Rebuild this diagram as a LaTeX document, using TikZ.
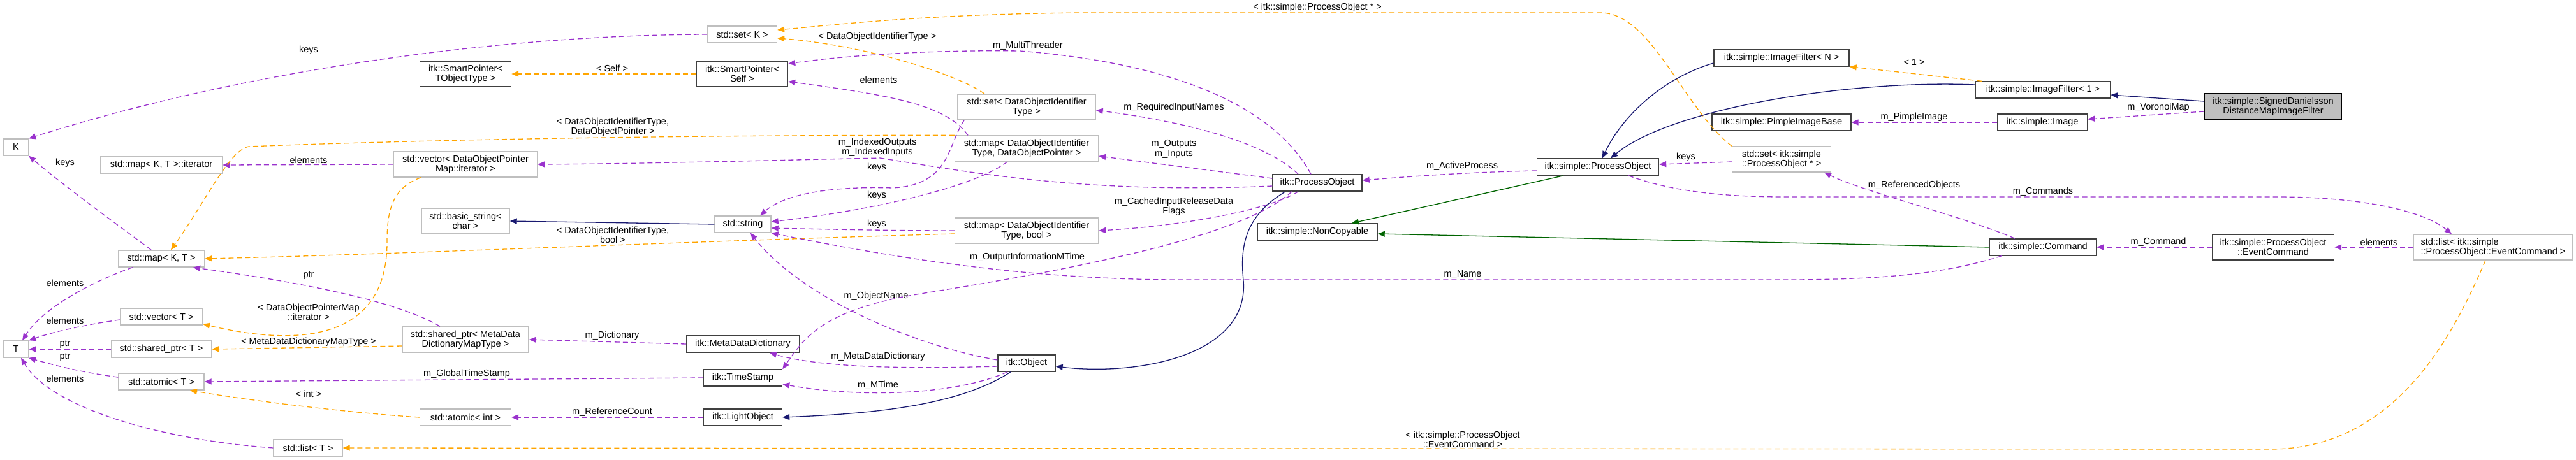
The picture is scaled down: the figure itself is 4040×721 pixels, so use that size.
\documentclass[tikz,border=0pt]{standalone}
\usepackage{fontspec}
\setmainfont{Liberation Sans}
\usepackage{xcolor}
\usepackage{tikz}
\usetikzlibrary{arrows.meta,positioning}
\definecolor{memberPurple}{HTML}{9A32CD}
\definecolor{templOrange}{HTML}{FFA500}
\definecolor{inheritNavy}{HTML}{191970}
\definecolor{privGreen}{HTML}{006400}
\definecolor{stdGrey}{HTML}{BFBFBF}
\definecolor{itkGrey}{HTML}{404040}

\begin{document}
\begin{tikzpicture}[
    x=1pt,y=-1pt,
    box/.style={draw=itkGrey,line width=1.4pt,fill=white,align=center,inner sep=2pt,minimum height=26pt,font=\fontsize{14.5}{15.5}\selectfont},
    stdbox/.style={box,draw=stdGrey},
    mainbox/.style={box,draw=black,fill=stdGrey},
    tall/.style={minimum height=40pt},
    lbl/.style={align=center,inner sep=0pt,font=\fontsize{14.5}{15.5}\selectfont},
    member/.style={draw=memberPurple,line width=1.3pt,dash pattern=on 8pt off 5pt,-{Triangle[length=11pt,width=9pt]}},
    templ/.style={member,draw=templOrange},
    inherit/.style={draw=inheritNavy,line width=1.3pt,-{Triangle[length=11pt,width=9pt]}},
    privinherit/.style={inherit,draw=privGreen}
  ]
    \useasboundingbox (0,0) rectangle (4040,721);
    \node[stdbox,minimum width=39pt] (K) at (25,231) {K};
    \node[stdbox,minimum width=39pt] (T) at (25,548) {T};
    \node[stdbox,minimum width=191pt] (mapIt) at (253,259) {std::map< K, T >::iterator};
    \node[stdbox,minimum width=135pt] (mapKT) at (253,406) {std::map< K, T >};
    \node[stdbox,minimum width=129pt] (vecT) at (253,497) {std::vector< T >};
    \node[stdbox,minimum width=157pt] (sptrT) at (253,548) {std::shared\_ptr< T >};
    \node[stdbox,minimum width=134pt] (atomT) at (253,599) {std::atomic< T >};
    \node[stdbox,minimum width=108pt] (listT) at (483,703) {std::list< T >};
    \node[box,tall,minimum width=143pt] (spTObj) at (730,116) {itk::SmartPointer<\\TObjectType >};
    \node[stdbox,tall,minimum width=225pt] (vecDOPM) at (730,258) {std::vector< DataObjectPointer\\Map::iterator >};
    \node[stdbox,tall,minimum width=138pt] (bstr) at (730,347) {std::basic\_string<\\char >};
    \node[stdbox,tall,minimum width=198pt] (sptrMD) at (730,533) {std::shared\_ptr< MetaData\\DictionaryMapType >};
    \node[stdbox,minimum width=143pt] (atomInt) at (730,655) {std::atomic< int >};
    \node[stdbox,minimum width=109pt] (setK) at (1164,54) {std::set< K >};
    \node[box,tall,minimum width=143pt] (spSelf) at (1164,116) {itk::SmartPointer<\\Self >};
    \node[stdbox,minimum width=88pt] (str) at (1165,352) {std::string};
    \node[box,minimum width=177pt] (mdd) at (1165,540) {itk::MetaDataDictionary};
    \node[box,minimum width=123pt] (tstamp) at (1165,593) {itk::TimeStamp};
    \node[box,minimum width=123pt] (light) at (1165,655) {itk::LightObject};
    \node[stdbox,tall,minimum width=216pt] (setDOIT) at (1610,168) {std::set< DataObjectIdentifier\\Type >};
    \node[stdbox,tall,minimum width=225pt] (mapDOP) at (1610,233) {std::map< DataObjectIdentifier\\Type, DataObjectPointer >};
    \node[stdbox,tall,minimum width=225pt] (mapBool) at (1610,362) {std::map< DataObjectIdentifier\\Type, bool >};
    \node[box,minimum width=90pt] (obj) at (1610,570) {itk::Object};
    \node[box,minimum width=140pt] (po) at (2066,287) {itk::ProcessObject};
    \node[box,minimum width=188pt] (nonCopy) at (2066,364) {itk::simple::NonCopyable};
    \node[box,minimum width=191pt] (spo) at (2506,262) {itk::simple::ProcessObject};
    \node[box,minimum width=212pt] (ifN) at (2794,91) {itk::simple::ImageFilter< N >};
    \node[box,minimum width=218pt] (pimple) at (2794,192) {itk::simple::PimpleImageBase};
    \node[stdbox,tall,minimum width=155pt] (setSPO) at (2794,250) {std::set< itk::simple\\::ProcessObject * >};
    \node[box,minimum width=211pt] (if1) at (3204,141) {itk::simple::ImageFilter< 1 >};
    \node[box,minimum width=141pt] (img) at (3203,192) {itk::simple::Image};
    \node[box,minimum width=167pt] (cmd) at (3204,388) {itk::simple::Command};
    \node[mainbox,tall,minimum width=215pt] (sdd) at (3565,167) {itk::simple::SignedDanielsson\\DistanceMapImageFilter};
    \node[box,tall,minimum width=191pt] (evCmd) at (3565,388) {itk::simple::ProcessObject\\::EventCommand};
    \node[stdbox,tall,minimum width=249pt,align=left] (listEv) at (3910,388) {std::list< itk::simple\\::ProcessObject::EventCommand >};

    \node[lbl] (lKeysSetK) at (484,79) {keys};
    \node[lbl] (lKeysMapK) at (102,256) {keys};
    \node[lbl] (lElemIt) at (484,251) {elements};
    \node[lbl] (lElemMapT) at (102,444) {elements};
    \node[lbl] (lElemVecT) at (102,503) {elements};
    \node[lbl] (lPtrShared) at (102,540) {ptr};
    \node[lbl] (lPtrAtomic) at (102,560) {ptr};
    \node[lbl] (lElemListT) at (102,594) {elements};
    \node[lbl] (lPtrMap) at (484,432) {ptr};
    \node[lbl] (lVecIt) at (484,490) {< DataObjectPointerMap\\::iterator >};
    \node[lbl] (lMDMap) at (484,537) {< MetaDataDictionaryMapType >};
    \node[lbl] (lInt) at (484,618) {< int >};
    \node[lbl] (lSelf) at (960,107) {< Self >};
    \node[lbl] (lIdPtr) at (961,199) {< DataObjectIdentifierType,\\DataObjectPointer >};
    \node[lbl] (lIdBool) at (961,369) {< DataObjectIdentifierType,\\bool >};
    \node[lbl] (lDict) at (960,527) {m\_Dictionary};
    \node[lbl] (lGlobal) at (732,587) {m\_GlobalTimeStamp};
    \node[lbl] (lRefCnt) at (960,647) {m\_ReferenceCount};
    \node[lbl] (lIdType) at (1376,58) {< DataObjectIdentifierType >};
    \node[lbl] (lElemSelf) at (1378,125) {elements};
    \node[lbl] (lIndexed) at (1376,231) {m\_IndexedOutputs\\m\_IndexedInputs};
    \node[lbl] (lKeysSet) at (1375,263) {keys};
    \node[lbl] (lKeysMap) at (1375,307) {keys};
    \node[lbl] (lKeysBool) at (1375,352) {keys};
    \node[lbl] (lObjName) at (1374,465) {m\_ObjectName};
    \node[lbl] (lMDD) at (1377,560) {m\_MetaDataDictionary};
    \node[lbl] (lMTime) at (1377,605) {m\_MTime};
    \node[lbl] (lPOStar) at (2066,12) {< itk::simple::ProcessObject * >};
    \node[lbl] (lMulti) at (1612,72) {m\_MultiThreader};
    \node[lbl] (lReqIn) at (1841,169) {m\_RequiredInputNames};
    \node[lbl] (lOutIn) at (1841,234) {m\_Outputs\\m\_Inputs};
    \node[lbl] (lCached) at (1841,324) {m\_CachedInputReleaseData\\Flags};
    \node[lbl] (lOutInfo) at (1611,404) {m\_OutputInformationMTime};
    \node[lbl] (lActive) at (2293,261) {m\_ActiveProcess};
    \node[lbl] (lKeysSPO) at (2644,247) {keys};
    \node[lbl] (lName) at (2294,431) {m\_Name};
    \node[lbl] (lEvCmdT) at (2294,690) {< itk::simple::ProcessObject\\::EventCommand >};
    \node[lbl] (lOne) at (3002,98) {< 1 >};
    \node[lbl] (lPimple) at (3002,184) {m\_PimpleImage};
    \node[lbl] (lVoronoi) at (3385,169) {m\_VoronoiMap};
    \node[lbl] (lRefObj) at (3002,291) {m\_ReferencedObjects};
    \node[lbl] (lCommands) at (3204,301) {m\_Commands};
    \node[lbl] (lCommand) at (3385,380) {m\_Command};
    \node[lbl] (lElemEv) at (3731,380) {elements};

    \draw[member] (setK.west) .. controls (750,55) and (350,120) .. (K.north east);
    \draw[member] ([xshift=-16pt]mapKT.north) .. controls (215,375) and (110,300) .. (K.south east);
    \draw[member] ([xshift=-45pt]mapKT.south) .. controls (150,440) and (70,480) .. ([xshift=10pt]T.north);
    \draw[member] ([yshift=-5pt]vecT.west) .. controls (130,510) and (80,522) .. (T.north east);
    \draw[member] (sptrT.west) -- (T.east);
    \draw[member] ([yshift=7pt]atomT.west) .. controls (130,585) and (80,572) .. (T.south east);
    \draw[member] (listT.west) .. controls (250,690) and (80,640) .. ([xshift=8pt]T.south);
    \draw[member] (vecDOPM.west) -- (mapIt.east);
    \draw[templ] ([xshift=-70pt]vecDOPM.south) .. controls (615,295) and (607,330) .. (607,380) .. controls (607,545) and (450,540) .. ([yshift=2pt]vecT.south east);
    \draw[templ] (mapDOP.north west) .. controls (1100,212) and (700,218) .. (390,230) .. controls (360,235) and (320,320) .. ([xshift=15pt]mapKT.north);
    \draw[templ] ([yshift=-5pt]mapBool.west) .. controls (1100,378) and (600,400) .. (mapKT.east);
    \draw[templ] ([yshift=-10pt]sptrMD.west) -- (sptrT.east);
    \draw[member] ([xshift=-40pt]sptrMD.north) .. controls (620,470) and (450,440) .. ([xshift=50pt]mapKT.south);
    \draw[templ] (atomInt.west) .. controls (550,648) and (400,630) .. ([xshift=45pt]atomT.south);
    \draw[member] (tstamp.west) -- (atomT.east);
    \draw[member] (light.west) -- (atomInt.east);
    \draw[member] (mdd.west) -- (sptrMD.east);
    \draw[inherit] (str.west) -- (bstr.east);
    \draw[templ] ([xshift=-66pt]setDOIT.north) .. controls (1500,115) and (1350,70) .. ([yshift=-6pt]setK.east);
    \draw[templ] (setSPO.north west) .. controls (2640,170) and (2590,20) .. (2510,20) -- (1700,20) .. controls (1450,22) and (1300,40) .. ([yshift=7pt]setK.east);
    \draw[member] ([xshift=-10pt]po.north) .. controls (2000,170) and (1850,100) .. (1600,80) .. controls (1450,78) and (1320,88) .. ([yshift=16pt]spSelf.east);
    \draw[templ] (spSelf.west) -- (spTObj.east);
    \draw[member] ([xshift=-92pt]mapDOP.north) .. controls (1485,165) and (1400,150) .. ([yshift=-12pt]spSelf.east);
    \draw[member] ([xshift=-98pt]setDOIT.south) .. controls (1485,230) and (1490,290) .. (1400,295) .. controls (1300,292) and (1230,305) .. ([xshift=27pt]str.north);
    \draw[member] ([xshift=-30pt]mapDOP.south) .. controls (1520,300) and (1330,335) .. ([yshift=4pt]str.east);
    \draw[member] (mapBool.west) .. controls (1400,362) and (1300,360) .. ([yshift=-6pt]str.east);
    \draw[member] ([yshift=-5pt]po.west) .. controls (1700,305) and (1520,270) .. (1380,248) .. controls (1200,252) and (1000,257) .. (vecDOPM.east);
    \draw[member] ([xshift=-30pt]po.north) .. controls (1980,220) and (1850,190) .. ([yshift=-5pt]setDOIT.east);
    \draw[member] ([yshift=7pt]po.west) -- ([yshift=-12pt]mapDOP.east);
    \draw[member] ([xshift=-30pt]po.south) .. controls (1990,330) and (1850,355) .. (mapBool.east);
    \draw[inherit] ([xshift=-50pt]po.south) .. controls (1950,340) and (1945,390) .. (1950,440) .. controls (1960,560) and (1780,590) .. ([yshift=-5pt]obj.east);
    \draw[member] ([xshift=-40pt]po.south) .. controls (1950,370) and (1700,420) .. (1450,460) .. controls (1290,485) and (1262,530) .. (tstamp.north east);
    \draw[member] ([yshift=5pt]obj.west) .. controls (1420,540) and (1250,460) .. ([xshift=12pt]str.south);
    \draw[member] ([yshift=-5pt]obj.west) .. controls (1400,580) and (1280,575) .. ([xshift=42pt]mdd.south);
    \draw[member] ([xshift=-30pt]obj.south) .. controls (1500,620) and (1350,625) .. ([yshift=-10pt]tstamp.east);
    \draw[inherit] ([xshift=-25pt]obj.south) .. controls (1500,640) and (1350,650) .. (light.east);
    \draw[member] ([yshift=-6pt]spo.west) .. controls (2300,270) and (2200,278) .. ([yshift=4pt]po.east);
    \draw[privinherit] ([xshift=-54pt]spo.south) -- ([xshift=54pt]nonCopy.north);
    \draw[privinherit] (cmd.west) -- ([yshift=-3pt]nonCopy.east);
    \draw[member] ([yshift=-4pt]setSPO.west) -- ([yshift=4pt]spo.east);
    \draw[member] ([xshift=-44pt]cmd.north) .. controls (3080,340) and (2920,300) .. ([xshift=67pt]setSPO.south);
    \draw[inherit] ([yshift=-8pt]ifN.west) .. controls (2600,125) and (2540,190) .. ([xshift=7pt]spo.north);
    \draw[inherit] ([yshift=8pt]if1.west) .. controls (2900,125) and (2620,170) .. ([xshift=20pt]spo.north);
    \draw[templ] ([xshift=-96pt]if1.north) -- (ifN.south east);
    \draw[inherit] ([yshift=8pt]sdd.west) -- ([yshift=-8pt]if1.east);
    \draw[member] ([yshift=-8pt]sdd.west) -- ([yshift=5pt]img.east);
    \draw[member] (img.west) -- (pimple.east);
    \draw[member] ([xshift=48pt]spo.south) .. controls (2620,300) and (2700,309) .. (2800,309) -- (3570,309) .. controls (3700,309) and (3800,330) .. ([xshift=-65pt]listEv.north);
    \draw[member] (evCmd.west) -- (cmd.east);
    \draw[member] (listEv.west) -- (evCmd.east);
    \draw[templ] ([xshift=-12pt]listEv.south) .. controls (3850,520) and (3760,705) .. (3560,705) -- (listT.east);
    \draw[member] ([xshift=-65pt]cmd.south) .. controls (3050,430) and (2950,439) .. (2800,439) -- (1850,439) .. controls (1600,439) and (1380,400) .. (str.south east);
  \end{tikzpicture}
\end{document}
